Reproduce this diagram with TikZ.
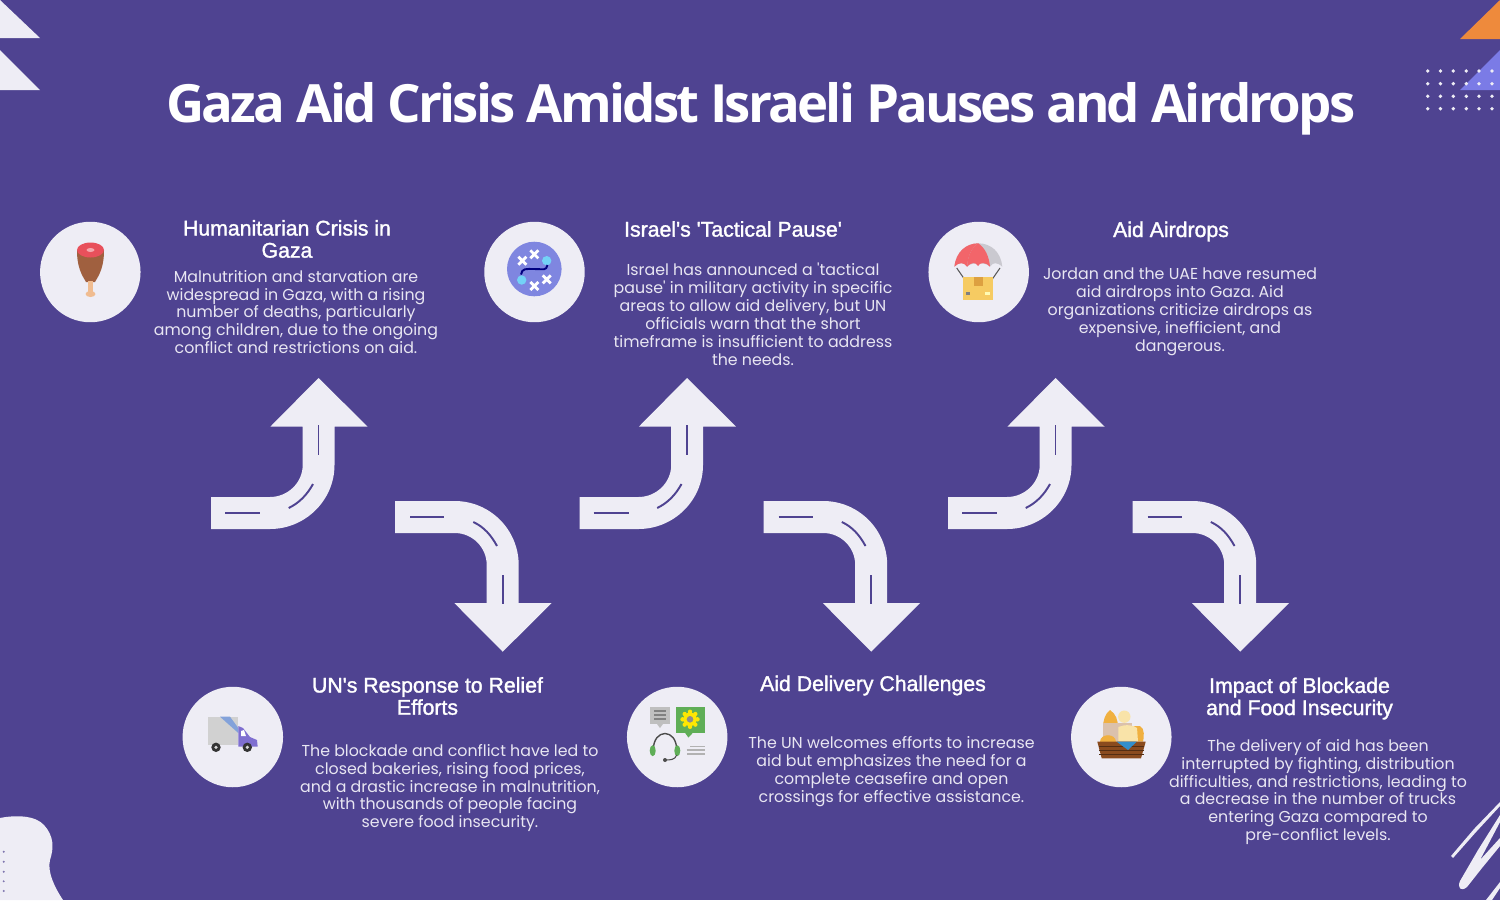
\documentclass[tikz,border=0pt]{standalone}
\usepackage{fontspec}
\setmainfont{Poppins}
\newfontfamily\titlefont[LetterSpace=-5.3]{Open Sans}
\newfontfamily\headfont[FakeBold=1.5]{Liberation Sans}
\definecolor{bgpurple}{HTML}{4F4391}
\definecolor{paper}{HTML}{EEEDF5}
\definecolor{bodytext}{HTML}{E8E6F2}
\definecolor{cornerorange}{HTML}{EE8A3C}
\definecolor{cornerblue}{HTML}{7B7BE6}
\definecolor{meat}{HTML}{A0603F}
\definecolor{meattop}{HTML}{E8505B}
\definecolor{bone}{HTML}{F0BC90}
\definecolor{boardblue}{HTML}{7F86E0}
\definecolor{chute}{HTML}{F2656A}
\definecolor{parcel}{HTML}{F6CB62}
\definecolor{parceltape}{HTML}{DDA040}
\definecolor{cabviolet}{HTML}{7F6FD0}
\definecolor{leaf}{HTML}{5FAE57}
\definecolor{wicker}{HTML}{8A4B1E}
\definecolor{crust}{HTML}{F0B040}
\definecolor{crumb}{HTML}{F9E3A8}
\tikzset{
  heading/.style={align=center,text=white,font=\headfont\fontsize{12.1}{12.6}\selectfont},
  bodycopy/.style={align=center,text=bodytext,font=\frenchspacing\fontsize{9}{10.2}\selectfont},
  iconcircle/.style={circle,fill=paper,minimum size=2.01cm,inner sep=0pt},
  roadline/.style={draw=bgpurple,line width=1.1pt},
  upturn/.pic={
    \fill[paper] (211,497) -- (270,497) .. controls (287.7,497) and (302.7,482.7) .. (302.7,465)
      -- (302.7,426.7) -- (270.3,426.7) -- (318.5,378) -- (367.7,426.7) -- (334.5,426.7)
      -- (334.5,465) .. controls (334.5,500.3) and (305.3,529) .. (270,529) -- (211,529) -- cycle;
    \draw[roadline] (225,513) -- (260,513);
    \draw[roadline] (288.7,508) .. controls (299,503) and (307,495) .. (313,484);
    \draw[roadline] (318.5,425) -- (318.5,455);
  },
  downturn/.pic={
    \fill[paper] (395,501) -- (454.7,501) .. controls (490,501) and (518.7,529.7) .. (518.7,565)
      -- (518.7,603) -- (551.7,603) -- (502.7,651.7) -- (454.3,603) -- (486.7,603)
      -- (486.7,565) .. controls (486.7,547.3) and (472.4,533) .. (454.7,533) -- (395,533) -- cycle;
    \draw[roadline] (410,517) -- (444,517);
    \draw[roadline] (473.3,522) .. controls (484,527) and (491,535) .. (497,546);
    \draw[roadline] (502.7,575) -- (502.7,604);
  },
}
\begin{document}
\begin{tikzpicture}[x=.02cm,y=-.02cm]
  \useasboundingbox (0,0) rectangle (1500,900);
  \fill[bgpurple] (0,0) rectangle (1500,900);
  % corners
  \fill[paper] (0,0) -- (40,38) -- (0,38) -- cycle;
  \fill[paper] (0,50) -- (40,90) -- (0,90) -- cycle;
  \fill[cornerorange] (1460,39) -- (1500,0) -- (1500,39) -- cycle;
  \fill[cornerblue] (1460,90) -- (1500,50) -- (1500,90) -- cycle;
  \foreach \dotx in {1427.7,1440.4,1453.3,1466.3,1479,1492}
    \foreach \doty in {71,83.7,96.3,108.7}
      \fill[paper] (\dotx,\doty) circle (1.9);
  \fill[paper] (0,818) .. controls (15,815) and (35,815) .. (44,825)
    .. controls (54,836) and (54,848) .. (50,860)
    .. controls (47,872) and (55,888) .. (63,900) -- (0,900) -- cycle;
  \foreach \doty in {851.7,861.7,871.7,881.3,891}
    \fill[bgpurple!70!paper] (3.7,\doty) circle (1.1);
  \fill[paper] (1451,856) -- (1474,829) -- (1500,802) -- (1500,806) -- (1476,832) -- (1453,858) -- cycle;
  \fill[paper] (1500,815) -- (1500,822) -- (1480,860) -- (1500,838) -- (1500,846) -- (1482,868)
    -- (1467,887) .. controls (1461,892) and (1457,888) .. (1460,881) -- (1478,850) -- cycle;
  \fill[paper] (1500,882) -- (1500,888) -- (1492,900) -- (1486,900) -- cycle;

  \node[align=center,text=white,font=\titlefont\bfseries\fontsize{30}{32}\selectfont] (title) at (761,108.5)
    {Gaza Aid Crisis Amidst Israeli Pauses and Airdrops};

  \foreach \dx in {0,368.5,737}
    \pic at (\dx,0) {upturn};
  \foreach \dx in {0,368.5,737.5}
    \pic at (\dx,0) {downturn};

  \node[iconcircle] (crisis) at (90.3,272) {};
  \node[iconcircle] (pause) at (534.5,272) {};
  \node[iconcircle] (airdrop) at (978.7,272) {};
  \node[iconcircle] (relief) at (232.8,737) {};
  \node[iconcircle] (delivery) at (677.2,737) {};
  \node[iconcircle] (blockade) at (1121.3,737) {};

  \node[heading] (crisishead) at (287,239) {Humanitarian Crisis in\\Gaza};
  \node[bodycopy] (crisisbody) at (296,312) {Malnutrition and starvation are\\widespread in Gaza, with a rising\\number of deaths, particularly\\among children, due to the ongoing\\conflict and restrictions on aid.};
  \node[heading] (pausehead) at (733,229) {Israel's 'Tactical Pause'};
  \node[bodycopy] (pausebody) at (753,314.5) {Israel has announced a \textquotesingle tactical\\pause\textquotesingle{} in military activity in specific\\areas to allow aid delivery, but UN\\officials warn that the short\\timeframe is insufficient to address\\the needs.};
  \node[heading] (airdrophead) at (1171,231.5) {Aid Airdrops};
  \node[bodycopy] (airdropbody) at (1180,312) {Jordan and the UAE have resumed\\aid airdrops into Gaza. Aid\\organizations criticize airdrops as\\expensive, inefficient, and\\dangerous.};
  \node[heading] (reliefhead) at (427.5,696) {UN's Response to Relief\\Efforts};
  \node[bodycopy] (reliefbody) at (450,788) {The blockade and conflict have led to\\closed bakeries, rising food prices,\\and a drastic increase in malnutrition,\\with thousands of people facing\\severe food insecurity.};
  \node[heading] (deliveryhead) at (873,685.5) {Aid Delivery Challenges};
  \node[bodycopy] (deliverybody) at (891.5,771.5) {The UN welcomes efforts to increase\\aid but emphasizes the need for a\\complete ceasefire and open\\crossings for effective assistance.};
  \node[heading] (blockadehead) at (1299.5,698.5) {Impact of Blockade\\and Food Insecurity};
  \node[bodycopy] (blockadebody) at (1318,792) {The delivery of aid has been\\interrupted by fighting, distribution\\difficulties, and restrictions, leading to\\a decrease in the number of trucks\\entering Gaza compared to\\pre-conflict levels.};

  % meat
  \fill[meat] (77,250) .. controls (77,268) and (82,275) .. (86,282) -- (95,282)
    .. controls (99,275) and (104,268) .. (104,250) -- cycle;
  \fill[bone] (88,281) rectangle (93,293);
  \fill[bone] (90.5,294) ellipse (5 and 3);
  \fill[meattop] (90.5,250) ellipse (13.5 and 7.5);
  \fill[meattop!50!white] (90.5,250) ellipse (4 and 2);

  % strategy board
  \fill[boardblue] (534.3,269) circle (27.3);
  \foreach \crossx/\crossy in {522.3/260.7,534.3/254.3,546.7/279.3,534.3/286}
    \draw[white,line width=1.6pt] (\crossx-4,\crossy-4) -- (\crossx+4,\crossy+4)
      (\crossx-4,\crossy+4) -- (\crossx+4,\crossy-4);
  \fill[cyan!55!white] (546.7,260.7) circle (4.7);
  \fill[cyan!55!white] (521.7,280) circle (4.7);
  \draw[blue!50!black,line width=1.1pt] (521,274.5) .. controls (522,268) and (526,269) .. (534,269)
    .. controls (544,269) and (546,271) .. (547.5,265);

  % parachute
  \draw[black!65,line width=.6pt] (956.7,268) -- (965,280) (1000,268) -- (991.7,280);
  \fill[paper!85!black] (954.3,266.7) .. controls (956,252) and (966,243.3) .. (978.3,243.3)
    .. controls (991,243.3) and (1001,252) .. (1002.3,266.7)
    .. controls (997,262) and (993,262) .. (990,266.7) .. controls (986,262) and (971,262) .. (967,266.7)
    .. controls (964,262) and (959,262) .. (954.3,266.7) -- cycle;
  \fill[chute] (954.3,266.7) .. controls (956,252) and (966,243.3) .. (978.3,243.3)
    .. controls (971,248) and (968,256) .. (967,266.7)
    .. controls (964,262) and (959,262) .. (954.3,266.7) -- cycle;
  \fill[chute] (978.3,243.3) .. controls (985,248) and (989,256) .. (990,266.7)
    .. controls (986,262) and (980,262) .. (978,266) .. controls (976,262) and (971,262) .. (967,266.7)
    .. controls (968,256) and (971,248) .. (978.3,243.3) -- cycle;
  \fill[parcel] (963.3,276.7) rectangle (993.3,300);
  \fill[parceltape] (974,276.7) rectangle (983.3,285.7);
  \fill[white!70!yellow] (985,292) rectangle (990,295);
  \fill[black!50] (966,292) rectangle (970,295);

  % truck
  \fill[black!18] (207.7,716.7) rectangle (238.3,745);
  \fill[cyan!45!blue!50!white] (220,716.7) -- (230,716.7) -- (238.3,728) -- (238.3,733) -- cycle;
  \fill[cabviolet] (238.3,726) -- (243,728) -- (250,737) -- (257,740) -- (257.7,746.7) -- (238.3,746.7) -- cycle;
  \fill[white] (241,731) -- (244,730) -- (246,736) -- (241,736) -- cycle;
  \foreach \wheelx in {216,247.3} {
    \fill[black!80] (\wheelx,747.3) circle (4.7);
    \fill[black!15] (\wheelx,747.3) circle (1.8);
  }

  % support
  \fill[black!25] (650,707.3) rectangle (670,724);
  \fill[black!25] (657,724) -- (663,724) -- (660,728) -- cycle;
  \foreach \liney in {711,715,719}
    \draw[black!50,line width=.6pt] (654,\liney) -- (666,\liney);
  \fill[leaf] (676,707.3) rectangle (705,732.7);
  \fill[leaf] (685,732.7) -- (693,732.7) -- (688.3,737.5) -- cycle;
  \foreach \toothang in {0,45,...,315}
    \fill[yellow!90!orange] (690,719.3) ++(\toothang:7.5) circle (2.2);
  \fill[yellow!90!orange] (690,719.3) circle (6.8);
  \fill[black!45] (690,719.3) circle (3.3);
  \draw[black!70,line width=.8pt] (653.3,750) .. controls (653.3,728) and (676.7,728) .. (676.7,750);
  \fill[leaf] (652.7,750.7) ellipse (3 and 5.5);
  \fill[leaf] (677.3,750.7) ellipse (3 and 5.5);
  \draw[black!70,line width=.6pt] (676.7,755) .. controls (675,760) and (670,760) .. (665,760);
  \fill[black!70] (665,760) circle (2);
  \draw[black!30,line width=.7pt] (690,746.7) -- (705,746.7) (686.7,750) -- (705,750) (687,754) -- (705,754);

  % bread basket
  \fill[crust] (1110,710) .. controls (1116,714) and (1118,720) .. (1118,728) -- (1103,728)
    .. controls (1103,720) and (1105,714) .. (1110,710) -- cycle;
  \fill[crumb] (1124.3,716.7) circle (6.2);
  \fill[brown!40!paper] (1102.7,723) rectangle (1131.7,741.7);
  \fill[crust] (1130,726) -- (1140,726) .. controls (1145,728) and (1144,738) .. (1143,741.7) -- (1130,741.7) -- cycle;
  \fill[crumb] (1118.3,727) .. controls (1125,724) and (1134,725) .. (1137,728) -- (1138,741.7) -- (1118.3,741.7) -- cycle;
  \fill[crust] (1100,741.7) .. controls (1100,733) and (1116,733) .. (1116,741.7) -- cycle;
  \fill[wicker] (1097.3,741.7) -- (1145.7,741.7) -- (1141,758.3) -- (1101.7,758.3) -- cycle;
  \foreach \liney in {746,750,754}
    \draw[wicker!60!black,line width=.4pt] (1099,\liney) -- (1144,\liney);
  \fill[blue!40!cyan!60!gray] (1116.7,741.7) -- (1136.7,741.7) -- (1128,750) -- cycle;
\end{tikzpicture}
\end{document}
